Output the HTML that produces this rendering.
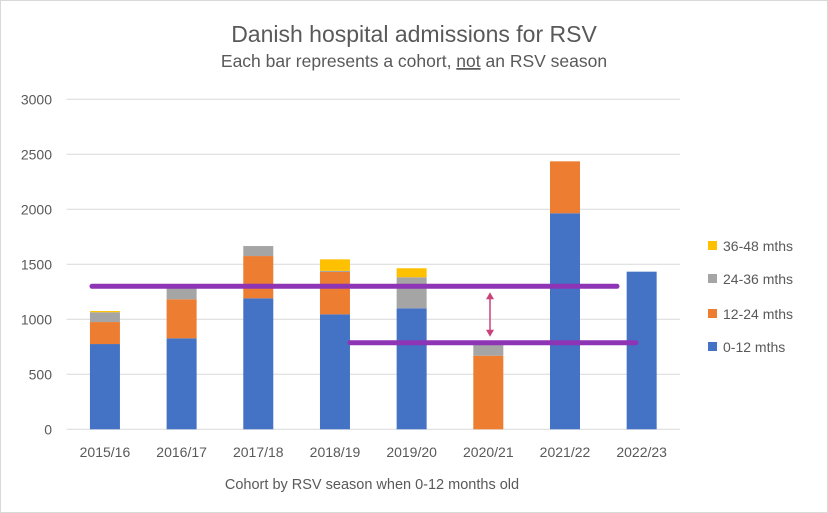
<!DOCTYPE html>
<html><head><meta charset="utf-8"><style>
body{margin:0;background:#fff}
svg{display:block;font-family:"Liberation Sans",Calibri,sans-serif}
</style></head><body>
<svg id="chart" width="828" height="513">
<rect x="0.5" y="0.5" width="827" height="512" fill="#fff" stroke="#d9d9d9"/>
<text x="414" y="42" text-anchor="middle" font-size="23" fill="#595959">Danish hospital admissions for RSV</text>
<text x="414" y="67" text-anchor="middle" font-size="17.5" fill="#595959">Each bar represents a cohort, <tspan text-decoration="underline">not</tspan> an RSV season</text>
<g id="grid"></g><g id="bars"></g><g id="xlabels"></g><g id="overlay"></g><g id="legend"></g>
<text x="372" y="489" text-anchor="middle" font-size="14.5" fill="#595959">Cohort by RSV season when 0-12 months old</text>
</svg>
<script>
const categories=["2015/16","2016/17","2017/18","2018/19","2019/20","2020/21","2021/22","2022/23"];
const m0_12=[775,827,1191,1045,1100,0,1964,1433];
const m12_24=[200,355,384,385,0,669,472,0];
const m24_36=[89,110,91,10,282,111,0,0];
const m36_48=[11,10,0,105,82,0,0,0];
const seriesNames=["0-12 mths","12-24 mths","24-36 mths","36-48 mths"];
const yTicks=[0,500,1000,1500,2000,2500,3000];
const refLevels=[1300,787];
const NS="http://www.w3.org/2000/svg";
const colors=["#4472c4","#ed7d31","#a5a5a5","#ffc000"];
const plotL=66.6,plotR=680,y0=429.3,pxPerUnit=0.11;
const yS=v=>y0-v*pxPerUnit;
const step=(plotR-plotL)/categories.length;
const xC=i=>plotL+step*(i+0.5);
function mk(tag,attrs,parent){const e=document.createElementNS(NS,tag);for(const k in attrs)e.setAttribute(k,attrs[k]);parent.appendChild(e);return e;}
const grid=document.getElementById('grid');
yTicks.forEach(t=>{
  const l=mk('line',{x1:plotL,x2:plotR,y1:yS(t),y2:yS(t),stroke:'#d9d9d9','stroke-width':1},grid);
  
  
  const tx=mk('text',{x:52,y:yS(t)+5,'text-anchor':'end','font-size':14,fill:'#595959'},grid);
  tx.textContent=t;
  
  
});
const bars=document.getElementById('bars');
const series=[m0_12,m12_24,m24_36,m36_48];
categories.forEach((c,i)=>{
  let acc=0;
  series.forEach((s,k)=>{
    const v=s[i];if(!v)return;
    const r=mk('rect',{x:xC(i)-15,width:30,y:yS(acc+v),height:v*pxPerUnit,fill:colors[k]},bars);
    
    
    acc+=v;
  });
  const t=mk('text',{x:xC(i),y:457,'text-anchor':'middle','font-size':14,fill:'#595959'},document.getElementById('xlabels'));
  t.textContent=c;
  
  
});
const ov=document.getElementById('overlay');
const l1=mk('line',{x1:92,x2:617,y1:yS(refLevels[0]),y2:yS(refLevels[0]),stroke:'#8e35b5','stroke-width':5,'stroke-linecap':'round'},ov);


const l2=mk('line',{x1:350,x2:636,y1:yS(refLevels[1]),y2:yS(refLevels[1]),stroke:'#8e35b5','stroke-width':5,'stroke-linecap':'round'},ov);


const ya=yS(refLevels[0])+6,yb=yS(refLevels[1])-6;
const ar=mk('g',{},ov);


mk('line',{x1:490,x2:490,y1:ya+4,y2:yb-4,stroke:'#c9427a','stroke-width':1.5},ar);
mk('polygon',{points:`490,${ya} 486,${ya+7} 494,${ya+7}`,fill:'#c9427a'},ar);
mk('polygon',{points:`490,${yb} 486,${yb-7} 494,${yb-7}`,fill:'#c9427a'},ar);
const lg=document.getElementById('legend');
const lys=[347,314,279,246];
seriesNames.forEach((n,k)=>{
  const g=mk('g',{},lg);
  
  
  mk('rect',{x:708,y:lys[k]-5,width:9,height:9,fill:colors[k]},g);
  const t=mk('text',{x:723,y:lys[k]+5,'font-size':14,fill:'#595959'},g);
  t.textContent=n;
});
</script>
</body></html>
